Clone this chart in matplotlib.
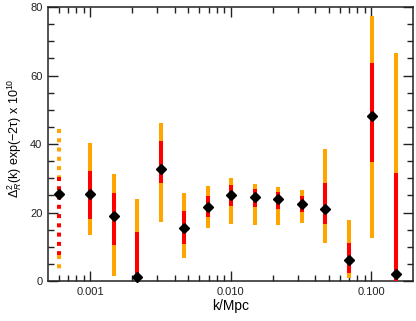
import numpy as np
import matplotlib
matplotlib.use("Agg")
import matplotlib.pyplot as plt
from matplotlib.ticker import MultipleLocator, FixedLocator, FixedFormatter, NullFormatter, LogLocator

plt.rcParams['font.family'] = ['Liberation Sans', 'DejaVu Sans']
plt.rcParams['mathtext.fontset'] = 'custom'
plt.rcParams['mathtext.rm'] = 'Liberation Sans'
plt.rcParams['mathtext.it'] = 'Liberation Sans:italic'

# band powers
k = np.array([6.05e-4, 1.0e-3, 1.475e-3, 2.16e-3, 3.2e-3, 4.69e-3, 6.89e-3,
              1.0e-2, 1.49e-2, 2.16e-2, 3.2e-2, 4.69e-2, 6.97e-2, 0.1016, 0.150])
val = np.array([25.5, 25.5, 19.0, 1.2, 32.6, 15.6, 21.6, 25.1, 24.5, 24.0,
                22.5, 21.0, 6.1, 48.2, 2.0])
# 1 sigma (red) and 2 sigma (orange) ranges
lo1 = np.array([7.5, 18.0, 10.4, -5.0, 28.7, 10.7, 18.8, 21.9, 21.5, 20.9,
                20.1, 16.6, 2.2, 34.7, -10.0])
hi1 = np.array([30.5, 32.2, 25.8, 14.3, 41.0, 20.4, 24.8, 28.0, 26.9, 26.0,
                24.8, 28.7, 11.0, 63.6, 31.6])
lo2 = np.array([2.7, 13.5, 1.6, -10.0, 17.3, 6.6, 15.6, 16.6, 16.4, 16.4,
                16.8, 11.0, 1.0, 12.6, -20.0])
hi2 = np.array([44.3, 40.2, 31.2, 24.0, 46.2, 25.6, 27.6, 30.2, 28.3, 27.4,
                26.6, 38.5, 17.8, 77.4, 66.5])

orange = '#ffa500'
red = '#ff0000'
lw = 2.9

fig = plt.figure(figsize=(4.16, 3.21), dpi=100)
ax = fig.add_axes([0.1154, 0.1246, 0.8774, 0.8534])

# first band drawn dotted
dots = (0, (1, 1.3))
ax.plot([k[0], k[0]], [hi2[0], hi1[0]], color=orange, lw=lw, ls=dots)
ax.plot([k[0], k[0]], [hi1[0], lo1[0]], color=red, lw=lw, ls=dots)
ax.plot([k[0], k[0]], [lo1[0], lo2[0]], color=orange, lw=lw, ls=dots)

ax.vlines(k[1:], lo2[1:], hi2[1:], color=orange, lw=lw, zorder=2)
ax.vlines(k[1:], lo1[1:], hi1[1:], color=red, lw=lw, zorder=3)
ax.plot(k, val, 'D', color='black', markersize=5, zorder=4, clip_on=False)

ax.set_xscale('log')
ax.set_xlim(5.02e-4, 0.199)
ax.set_ylim(0, 80)

ax.xaxis.set_major_locator(FixedLocator([1e-3, 1e-2, 1e-1]))
ax.xaxis.set_major_formatter(FixedFormatter(['0.001', '0.010', '0.100']))
ax.xaxis.set_minor_locator(LogLocator(base=10, subs=np.arange(2, 10)))
ax.xaxis.set_minor_formatter(NullFormatter())
ax.yaxis.set_major_locator(MultipleLocator(20))
ax.yaxis.set_minor_locator(MultipleLocator(5))

ax.tick_params(which='both', direction='in', top=True, right=True,
               labelsize=8, colors='#222222', pad=4)
ax.tick_params(which='major', length=7, width=1)
ax.tick_params(which='minor', length=4, width=1)
for s in ax.spines.values():
    s.set_linewidth(1.1)
    s.set_color('#222222')

ax.set_xlabel('k/Mpc', fontsize=10, labelpad=2)
ax.set_ylabel(r'$\Delta^2_{R}$(k) exp(−2τ) x 10$^{10}$', fontsize=9)
ax.yaxis.set_label_coords(-0.065, 0.52)

fig.savefig('out.png', dpi=100)
